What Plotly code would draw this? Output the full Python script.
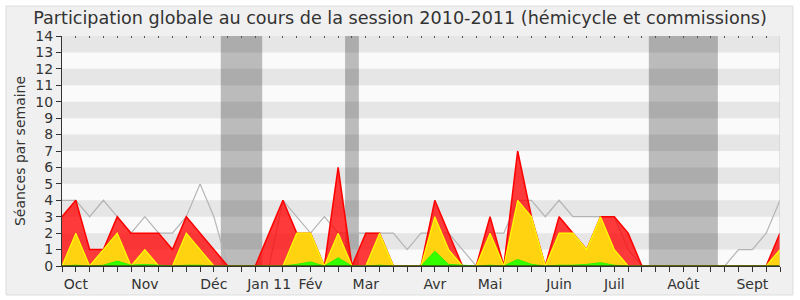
import plotly.graph_objects as go

weeks = list(range(53))
total = [3, 4, 1, 1, 3, 2, 2, 2, 1, 3, 2, 1, 0, 0, 0, 2, 4, 2, 2, 0,
         6, 0, 2, 2, 0, 0, 0, 4, 2, 0, 0, 3, 0, 7, 3, 0, 3, 2, 1, 3,
         3, 2, 0, 0, 0, 0, 0, 0, 0, 0, 0, 0, 2]
hemicycle = [0, 2, 0, 1, 2, 0, 1, 0, 0, 2, 1, 0, 0, 0, 0, 0, 0, 2, 2, 0,
             2, 0, 0, 2, 0, 0, 0, 3, 1, 0, 0, 2, 0, 4, 3, 0, 2, 2, 1, 3,
             1, 0, 0, 0, 0, 0, 0, 0, 0, 0, 0, 0, 1]
interventions = [0, 0.05, 0, 0.05, 0.3, 0.05, 0.1, 0.05, 0, 0.05, 0.05, 0, 0, 0, 0, 0, 0, 0.1, 0.25, 0,
                 0.5, 0, 0, 0.05, 0, 0, 0, 0.9, 0.1, 0.05, 0, 0.05, 0, 0.4, 0.1, 0, 0.05, 0.05, 0.1, 0.2,
                 0.05, 0, 0, 0, 0, 0, 0, 0, 0, 0, 0, 0, 0]
questions = [0, 0, 0, 0, 0, 0, 0, 0, 0, 0.85, 0, 0, 0, 0, 0, 0, 0, 0, 0.85, 0,
             0, 0, 0, 0, 0, 0, 0, 0, 0, 0, 0, 0.85, 0, 0, 0, 0, 0.85, 0, 0, 0,
             0, 0, 0, 0, 0, 0, 0, 0, 0, 0, 0, 0, 0]
mediane = [4, 4, 3, 4, 3, 2, 3, 2, 2, 3, 5, 3, 0, 0, 0, 0, 4, 3, 2, 3,
           2, 2, 2, 2, 2, 1, 2, 2, 2, 1, 0, 2, 2, 4, 4, 3, 4, 3, 3, 3,
           3, 1, 0, 0, 0, 0, 0, 0, 0, 1, 1, 2, 4]
month_pos = [1, 6, 11, 15, 18, 22, 27, 31, 36, 40, 45, 50]
month_labels = ["Oct", "Nov", "Déc", "Jan 11", "Fév", "Mar", "Avr", "Mai", "Juin", "Juil", "Août", "Sept"]
vacances = [(11.5, 14.5), (20.5, 21.5), (42.5, 47.5)]

ticktext = [""] * len(weeks)
for p, l in zip(month_pos, month_labels):
    ticktext[p] = l

fig = go.Figure()
fig.add_trace(go.Scatter(x=weeks, y=mediane, mode="lines",
                         line=dict(color="#b4b4b4", width=1.2), hoverinfo="skip"))
fig.add_trace(go.Scatter(x=weeks, y=total, mode="lines", fill="tozeroy",
                         fillcolor="rgba(255,0,0,0.77)", line=dict(color="#ff0000", width=1.5)))
fig.add_trace(go.Scatter(x=weeks, y=hemicycle, mode="lines", fill="tozeroy",
                         fillcolor="#ffd30f", line=dict(color="#ffff00", width=1.2)))
fig.add_trace(go.Scatter(x=weeks, y=interventions, mode="lines", fill="tozeroy",
                         fillcolor="#33ff00", line=dict(color="#33ee00", width=1)))
fig.add_trace(go.Bar(x=weeks, y=questions, width=0.32, marker=dict(color="#2222dd", line=dict(width=0))))
fig.add_trace(go.Scatter(x=[0, 52], y=[0, 0], mode="lines", line=dict(color="#330000", width=1.2),
                         hoverinfo="skip"))
fig.add_trace(go.Scatter(x=[0], y=[0], xaxis="x2", mode="markers", marker=dict(opacity=0),
                         hoverinfo="skip"))

shapes = []
shapes.append(dict(type="rect", xref="paper", yref="paper", x0=-0.078, x1=1.018, y0=-0.126, y1=1.13,
                   line=dict(color="#dddddd", width=1), fillcolor="#f0f0f0", layer="below"))
shapes.append(dict(type="rect", xref="x", yref="y", x0=0, x1=52, y0=0, y1=14,
                   line=dict(width=0), fillcolor="#fafafa", layer="below"))
for k in range(7):
    shapes.append(dict(type="rect", xref="x", yref="y", x0=0, x1=52, y0=2 * k + 1, y1=2 * k + 2,
                       line=dict(width=0), fillcolor="#e6e6e6", layer="below"))
for a, b in vacances:
    shapes.append(dict(type="rect", xref="x", yref="y", x0=a, x1=b, y0=0, y1=14,
                       line=dict(width=0), fillcolor="rgba(0,0,0,0.25)", layer="below"))
shapes.append(dict(type="line", xref="x", yref="y", x0=52, x1=52, y0=0, y1=14,
                   line=dict(color="#cccccc", width=1)))

fig.update_layout(
    width=800, height=300,
    margin=dict(l=62, r=20, t=36, b=34),
    paper_bgcolor="#ffffff", plot_bgcolor="#fafafa",
    showlegend=False,
    bargap=0,
    font=dict(family="DejaVu Sans", size=14, color="#333333"),
    title=dict(text="Participation globale au cours de la session 2010-2011 (hémicycle et commissions)",
               x=0.5, xanchor="center", y=0.94, yanchor="middle", yref="container",
               font=dict(family="DejaVu Sans", size=17.6, color="#333333")),
    shapes=shapes,
    xaxis=dict(range=[0, 52], tickmode="array", tickvals=weeks, ticktext=ticktext,
               ticks="outside", ticklen=5, tickcolor="#333333", tickwidth=1, automargin=False,
               showgrid=False, zeroline=False, showline=True, linecolor="#333333",
               tickfont=dict(size=14, color="#333333"), fixedrange=True),
    xaxis2=dict(range=[0, 52], overlaying="x", side="top", tickmode="array", tickvals=weeks,
                ticks="inside", ticklen=2, tickcolor="#555555", showticklabels=False, automargin=False,
                showgrid=False, zeroline=False, showline=False),
    yaxis=dict(range=[0, 14], tickmode="array", tickvals=list(range(15)), automargin=False,
               ticks="outside", ticklen=5, tickcolor="#333333",
               showgrid=False, zeroline=False, showline=True, linecolor="#333333",
               tickfont=dict(size=14, color="#333333"),
               title=dict(text="Séances par semaine", font=dict(size=14, color="#333333"), standoff=6)),
)
fig.write_html("out.html")
